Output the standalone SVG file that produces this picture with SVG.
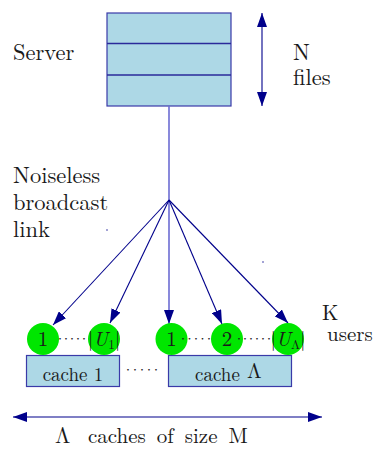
<svg xmlns="http://www.w3.org/2000/svg" width="375" height="450" viewBox="0 0 375 450">
<defs>
<style>
text{font-family:'Latin Modern Roman','CMU Serif','Liberation Serif','DejaVu Serif','Noto Serif','FreeSerif','Nimbus Roman','Tinos','Times New Roman',Times,serif;fill:#1a1a1a}
.big{font-size:22.5px}
.cl{font-size:19px}
.dot{font-size:16px;text-anchor:middle}
.box{fill:#add8e6;stroke:#3a3aa8;stroke-width:1.2}
.fan{stroke:#00008b;stroke-width:1.1;fill:none}
.usr{fill:#00e600}
</style>
<marker id="ah" viewBox="0 0 14 10" refX="14" refY="5" markerWidth="14" markerHeight="10" markerUnits="userSpaceOnUse" orient="auto-start-reverse">
<path d="M0,0 L14,5 L0,10 Z" fill="#00008b"/>
</marker>
</defs>
<rect width="375" height="450" fill="#fff"/>

<g id="server">
<rect class="box" x="107" y="13" width="124" height="93"/>
<line x1="107" y1="43.5" x2="231" y2="43.5" stroke="#2a2a9a" stroke-width="1.4"/>
<line x1="107" y1="75" x2="231" y2="75" stroke="#2a2a9a" stroke-width="1.4"/>
<text class="big" x="13" y="60">Server</text>
</g>

<g id="nfiles">
<line class="fan" x1="262" y1="13" x2="262" y2="106" marker-start="url(#ah)" marker-end="url(#ah)"/>
<text class="big" x="293" y="60">N</text>
<text class="big" x="293" y="85">files</text>
</g>

<g id="link-label">
<text class="big" x="13" y="183">Noiseless</text>
<text class="big" x="13" y="210">broadcast</text>
<text class="big" x="13" y="237">link</text>
</g>

<g id="connectors">
<line x1="169" y1="106" x2="169" y2="200" stroke="#6c6cd2" stroke-width="1.6"/>
<line x1="169" y1="200" x2="169" y2="324" stroke="#6c6cd2" stroke-width="1.6" marker-end="url(#ah)"/>
<line class="fan" x1="169" y1="200" x2="53" y2="325" marker-end="url(#ah)"/>
<line class="fan" x1="169" y1="200" x2="110" y2="323" marker-end="url(#ah)"/>
<line class="fan" x1="169" y1="200" x2="222" y2="324" marker-end="url(#ah)"/>
<line class="fan" x1="169" y1="200" x2="288" y2="323" marker-end="url(#ah)"/>
<circle cx="107" cy="230" r="0.7" fill="#00008b"/>
<circle cx="263" cy="262" r="0.7" fill="#00008b"/>
</g>

<g id="cache1">
<rect class="box" x="26.5" y="355.5" width="93" height="31"/>
<text class="cl" x="73" y="381" text-anchor="middle">cache 1</text>
</g>

<g id="cacheL">
<rect class="box" x="168.5" y="355.5" width="123" height="31"/>
<text class="cl" x="195" y="381">cache</text>
<text x="247" y="378" font-size="21">Λ</text>
</g>

<text class="dot" x="128 135 142 149 156" y="375">·····</text>

<g id="user1a">
<circle class="usr" cx="43" cy="339" r="16"/>
<text x="43" y="346" text-anchor="middle" font-size="21">1</text>
</g>
<text class="dot" x="60 66 72 78 84" y="344">·····</text>
<g id="user1b">
<circle class="usr" cx="104" cy="339" r="16"/>
<text x="104" y="346" text-anchor="middle" font-size="20">|<tspan font-style="italic">U</tspan><tspan font-size="13" dy="3">1</tspan><tspan dy="-3">|</tspan></text>
</g>

<g id="user2a">
<circle class="usr" cx="171.5" cy="339" r="16"/>
<text x="171.5" y="346" text-anchor="middle" font-size="21">1</text>
</g>
<text class="dot" x="183 189.5 196 202.5 209" y="344">·····</text>
<g id="user2b">
<circle class="usr" cx="227" cy="339" r="16"/>
<text x="227" y="346" text-anchor="middle" font-size="21">2</text>
</g>
<text class="dot" x="239 245 251 257 263 269" y="344">······</text>
<g id="user2c">
<circle class="usr" cx="288" cy="339" r="16"/>
<text x="288" y="346" text-anchor="middle" font-size="20">|<tspan font-style="italic">U</tspan><tspan font-size="13" dy="3">Λ</tspan><tspan dy="-3">|</tspan></text>
</g>

<g id="k-users">
<text x="322" y="320" font-size="21">K</text>
<text x="327" y="341" font-size="21">users</text>
</g>

<g id="caches-size">
<line class="fan" x1="13" y1="417" x2="322" y2="417" stroke-width="1.6" marker-start="url(#ah)" marker-end="url(#ah)"/>
<text x="55" y="443" font-size="22">Λ</text>
<text x="88" y="443" font-size="21" word-spacing="4">caches of size M</text>
</g>
</svg>
